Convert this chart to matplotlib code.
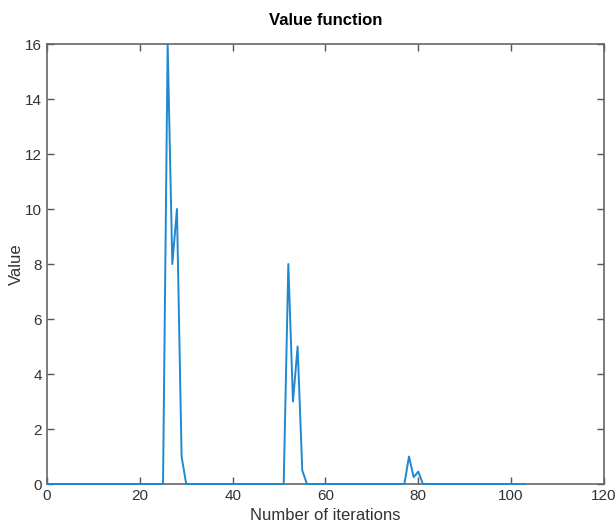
import numpy as np
import matplotlib
matplotlib.use("Agg")
import matplotlib.pyplot as plt

plt.rcParams['font.family'] = ['Liberation Sans', 'DejaVu Sans']

# iterations 0..103, value function
iterations = np.arange(0, 104)
value = np.zeros(len(iterations))
burst_x = [26, 27, 28, 29, 52, 53, 54, 55, 78, 79, 80]
burst_y = [16, 8, 10, 1, 8, 3, 5, 0.5, 1, 0.25, 0.45]
value[burst_x] = burst_y

fig = plt.figure(figsize=(6.15, 5.26), dpi=100)
ax = fig.add_axes([0.0764, 0.0798, 0.9056, 0.8365])
ax.plot(iterations, value, color='#1f88d0', linewidth=1.4, clip_on=False, zorder=5)

ax.set_xlim(0, 120)
ax.set_ylim(0, 16)
ax.set_xticks(np.arange(0, 121, 20))
ax.set_yticks(np.arange(0, 17, 2))
ax.tick_params(direction='in', top=True, right=True, length=5, width=1,
               colors='#555555', labelcolor='#333333', labelsize=11)
for s in ax.spines.values():
    s.set_color('#666666')
    s.set_linewidth(1.2)

ax.set_title("Value function", fontweight='bold', fontsize=12, pad=14)
ax.set_xlabel("Number of iterations", fontsize=12, color='#333333', labelpad=4)
ax.set_ylabel("Value", fontsize=12, color='#333333')
ax.yaxis.set_label_coords(-0.041, 0.5)

fig.savefig("out.png", dpi=100)
